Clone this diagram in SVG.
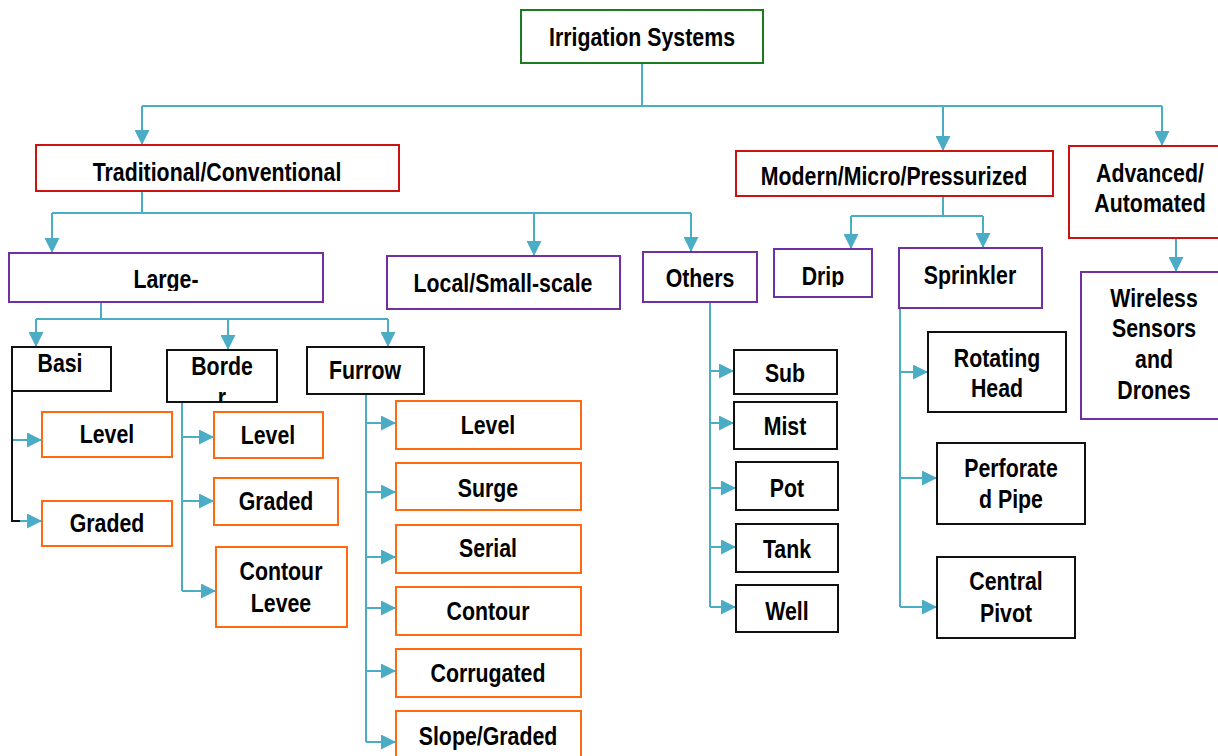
<svg xmlns="http://www.w3.org/2000/svg" width="1218" height="756" viewBox="0 0 1218 756">
<style>
  .box{fill:#fff;stroke-width:2}
  .g{stroke:#1e7a1e}
  .r{stroke:#cc1111}
  .p{stroke:#7030a0}
  .o{stroke:#ff6a10}
  .k{stroke:#111}
  text{font-family:"Liberation Sans",Arial,sans-serif;font-weight:bold;font-size:26px;fill:#000;text-anchor:middle}
  .c{fill:none;stroke:#4bacc6;stroke-width:2}
  .cb{fill:none;stroke:#111;stroke-width:2}
</style>
<defs>
  <marker id="ah" viewBox="0 0 10 10" refX="10" refY="5" markerWidth="15" markerHeight="15" markerUnits="userSpaceOnUse" orient="auto">
    <path d="M0,0 L10,5 L0,10 z" fill="#4bacc6"/>
  </marker>
  <clipPath id="clipLarge"><rect x="9" y="253" width="314" height="38"/></clipPath>
  <clipPath id="clipBasi"><rect x="12" y="347" width="99" height="43"/></clipPath>
  <clipPath id="clipBorder"><rect x="167" y="350" width="110" height="51"/></clipPath>
  <clipPath id="clipDrip"><rect x="774" y="249" width="98" height="38"/></clipPath>
</defs>

<g id="connectors">
  <path class="c" d="M642,63 V106 M142,106 H1162"/>
  <path class="c" d="M142,106 V145" marker-end="url(#ah)"/>
  <path class="c" d="M943,106 V151" marker-end="url(#ah)"/>
  <path class="c" d="M1162,106 V146" marker-end="url(#ah)"/>

  <path class="c" d="M142,191 V213 M52,213 H691"/>
  <path class="c" d="M52,213 V253" marker-end="url(#ah)"/>
  <path class="c" d="M534,213 V256" marker-end="url(#ah)"/>
  <path class="c" d="M691,213 V252" marker-end="url(#ah)"/>

  <path class="c" d="M943,196 V216 M851,216 H983"/>
  <path class="c" d="M851,216 V249" marker-end="url(#ah)"/>
  <path class="c" d="M983,216 V248" marker-end="url(#ah)"/>

  <path class="c" d="M1176,238 V272" marker-end="url(#ah)"/>

  <path class="c" d="M101,302 V319 M36,319 H388"/>
  <path class="c" d="M36,319 V347" marker-end="url(#ah)"/>
  <path class="c" d="M228,319 V350" marker-end="url(#ah)"/>
  <path class="c" d="M388,319 V347" marker-end="url(#ah)"/>

  <path class="cb" d="M12,391 V521 H20"/>
  <path class="c" d="M13,440 H42" marker-end="url(#ah)"/>
  <path class="c" d="M20,521 H42" marker-end="url(#ah)"/>

  <path class="c" d="M182,402 V591"/>
  <path class="c" d="M182,437 H214" marker-end="url(#ah)"/>
  <path class="c" d="M182,501 H214" marker-end="url(#ah)"/>
  <path class="c" d="M182,591 H216" marker-end="url(#ah)"/>

  <path class="c" d="M366,394 V742"/>
  <path class="c" d="M366,423 H396" marker-end="url(#ah)"/>
  <path class="c" d="M366,492 H396" marker-end="url(#ah)"/>
  <path class="c" d="M366,557 H396" marker-end="url(#ah)"/>
  <path class="c" d="M366,608 H396" marker-end="url(#ah)"/>
  <path class="c" d="M366,671 H396" marker-end="url(#ah)"/>
  <path class="c" d="M366,742 H396" marker-end="url(#ah)"/>

  <path class="c" d="M710,302 V607"/>
  <path class="c" d="M710,371 H734" marker-end="url(#ah)"/>
  <path class="c" d="M710,423 H734" marker-end="url(#ah)"/>
  <path class="c" d="M710,488 H736" marker-end="url(#ah)"/>
  <path class="c" d="M710,547 H736" marker-end="url(#ah)"/>
  <path class="c" d="M710,607 H736" marker-end="url(#ah)"/>

  <path class="c" d="M900,308 V607"/>
  <path class="c" d="M900,372 H928" marker-end="url(#ah)"/>
  <path class="c" d="M900,478 H937" marker-end="url(#ah)"/>
  <path class="c" d="M900,607 H937" marker-end="url(#ah)"/>
</g>

<g id="irrigation-systems"><rect class="box g" x="521" y="10" width="242" height="53"/><text transform="translate(642,46) scale(0.82,1)">Irrigation Systems</text></g>
<g id="traditional"><rect class="box r" x="36" y="145" width="363" height="46"/><text transform="translate(217,181) scale(0.82,1)">Traditional/Conventional</text></g>
<g id="modern"><rect class="box r" x="736" y="151" width="317" height="45"/><text transform="translate(894,185) scale(0.82,1)">Modern/Micro/Pressurized</text></g>
<g id="advanced"><rect class="box r" x="1069" y="146" width="160" height="92"/><text transform="translate(1150,182) scale(0.82,1)">Advanced/</text><text transform="translate(1150,212) scale(0.82,1)">Automated</text></g>
<g id="wireless"><rect class="box p" x="1081" y="272" width="150" height="147"/><text transform="translate(1154,307) scale(0.82,1)">Wireless</text><text transform="translate(1154,337) scale(0.82,1)">Sensors</text><text transform="translate(1154,368) scale(0.82,1)">and</text><text transform="translate(1154,399) scale(0.82,1)">Drones</text></g>

<g id="large"><rect class="box p" x="9" y="253" width="314" height="49"/><g clip-path="url(#clipLarge)"><text transform="translate(166,288) scale(0.82,1)">Large-</text></g></g>
<g id="local"><rect class="box p" x="387" y="256" width="233" height="53"/><text transform="translate(503,292) scale(0.82,1)">Local/Small-scale</text></g>
<g id="others"><rect class="box p" x="643" y="252" width="114" height="50"/><text transform="translate(700,287) scale(0.82,1)">Others</text></g>
<g id="drip"><rect class="box p" x="774" y="249" width="98" height="48"/><g clip-path="url(#clipDrip)"><text transform="translate(823,285) scale(0.82,1)">Drip</text></g></g>
<g id="sprinkler"><rect class="box p" x="899" y="248" width="143" height="60"/><text transform="translate(970,284) scale(0.82,1)">Sprinkler</text></g>

<g id="basin"><rect class="box k" x="12" y="347" width="99" height="44"/><g clip-path="url(#clipBasi)"><text transform="translate(60,372) scale(0.82,1)">Basi</text></g></g>
<g id="border"><rect class="box k" x="167" y="350" width="110" height="52"/><g clip-path="url(#clipBorder)"><text transform="translate(222,375) scale(0.82,1)">Borde</text><text transform="translate(222,406) scale(0.82,1)">r</text></g></g>
<g id="furrow"><rect class="box k" x="307" y="347" width="117" height="47"/><text transform="translate(365,379) scale(0.82,1)">Furrow</text></g>

<g id="basin-level"><rect class="box o" x="42" y="412" width="130" height="45"/><text transform="translate(107,443) scale(0.82,1)">Level</text></g>
<g id="basin-graded"><rect class="box o" x="42" y="501" width="130" height="45"/><text transform="translate(107,532) scale(0.82,1)">Graded</text></g>

<g id="border-level"><rect class="box o" x="214" y="412" width="109" height="46"/><text transform="translate(268,444) scale(0.82,1)">Level</text></g>
<g id="border-graded"><rect class="box o" x="214" y="478" width="124" height="47"/><text transform="translate(276,510) scale(0.82,1)">Graded</text></g>
<g id="contour-levee"><rect class="box o" x="216" y="547" width="131" height="80"/><text transform="translate(281,580) scale(0.82,1)">Contour</text><text transform="translate(281,612) scale(0.82,1)">Levee</text></g>

<g id="furrow-level"><rect class="box o" x="396" y="401" width="185" height="48"/><text transform="translate(488,434) scale(0.82,1)">Level</text></g>
<g id="furrow-surge"><rect class="box o" x="396" y="463" width="185" height="47"/><text transform="translate(488,497) scale(0.82,1)">Surge</text></g>
<g id="furrow-serial"><rect class="box o" x="396" y="525" width="185" height="48"/><text transform="translate(488,557) scale(0.82,1)">Serial</text></g>
<g id="furrow-contour"><rect class="box o" x="396" y="587" width="185" height="48"/><text transform="translate(488,620) scale(0.82,1)">Contour</text></g>
<g id="furrow-corrugated"><rect class="box o" x="396" y="649" width="185" height="48"/><text transform="translate(488,682) scale(0.82,1)">Corrugated</text></g>
<g id="furrow-slope"><rect class="box o" x="396" y="711" width="185" height="60"/><text transform="translate(488,745) scale(0.82,1)">Slope/Graded</text></g>

<g id="sub"><rect class="box k" x="734" y="350" width="103" height="44"/><text transform="translate(785,382) scale(0.82,1)">Sub</text></g>
<g id="mist"><rect class="box k" x="734" y="402" width="103" height="47"/><text transform="translate(785,435) scale(0.82,1)">Mist</text></g>
<g id="pot"><rect class="box k" x="736" y="462" width="102" height="48"/><text transform="translate(787,497) scale(0.82,1)">Pot</text></g>
<g id="tank"><rect class="box k" x="736" y="524" width="102" height="48"/><text transform="translate(787,558) scale(0.82,1)">Tank</text></g>
<g id="well"><rect class="box k" x="736" y="585" width="102" height="47"/><text transform="translate(787,620) scale(0.82,1)">Well</text></g>

<g id="rotating-head"><rect class="box k" x="928" y="332" width="138" height="80"/><text transform="translate(997,367) scale(0.82,1)">Rotating</text><text transform="translate(997,397) scale(0.82,1)">Head</text></g>
<g id="perforated-pipe"><rect class="box k" x="937" y="443" width="148" height="81"/><text transform="translate(1011,477) scale(0.82,1)">Perforate</text><text transform="translate(1011,508) scale(0.82,1)">d Pipe</text></g>
<g id="central-pivot"><rect class="box k" x="937" y="557" width="138" height="81"/><text transform="translate(1006,590) scale(0.82,1)">Central</text><text transform="translate(1006,622) scale(0.82,1)">Pivot</text></g>
</svg>
